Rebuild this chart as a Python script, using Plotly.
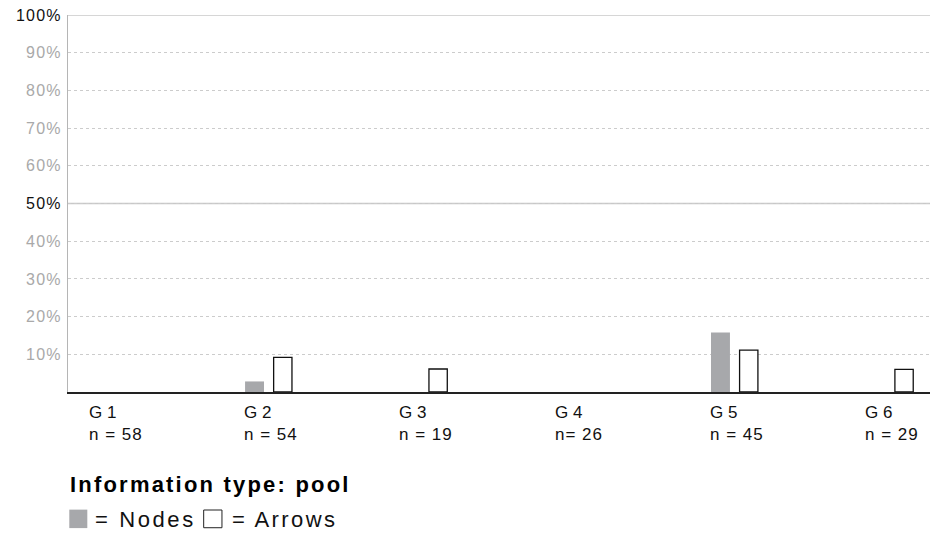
import plotly.graph_objects as go

groups = ['G 1', 'G 2', 'G 3', 'G 4', 'G 5', 'G 6']
n_labels = ['n = 58', 'n = 54', 'n = 19', 'n= 26', 'n = 45', 'n = 29']
nodes = [None, 2.8, None, None, 15.8, None]
arrows = [None, 9.2, 6.1, None, 11.1, 6.0]
y_ticks = [10, 20, 30, 40, 50, 60, 70, 80, 90, 100]

FONT = 'Liberation Sans, Arial, sans-serif'
GREY = '#a7a8ab'
xpos = list(range(len(groups)))


def spaced(txt, px):
    return "<span style='letter-spacing:%spx'>%s</span>" % (px, txt)


fig = go.Figure()

fig.add_trace(go.Bar(
    x=xpos, y=nodes, name='Nodes', width=0.122, offset=-0.152,
    marker={'color': GREY, 'line': {'width': 0}}
))
fig.add_trace(go.Bar(
    x=xpos, y=arrows, name='Arrows', width=0.118, offset=0.032,
    marker={'color': 'white', 'line': {'color': '#111', 'width': 1.3}}
))

# solid lines at 50% and 100%
for yv in [50, 100]:
    fig.add_shape(type='line', xref='paper', yref='y', x0=0, x1=1, y0=yv, y1=yv,
                  line={'color': '#c8c8c8', 'width': 1.3}, layer='below')

# group labels under the axis
for i, (g, n) in enumerate(zip(groups, n_labels)):
    fig.add_annotation(x=i - 0.152, y=0, xref='x', yref='paper', text=g,
                       showarrow=False, xanchor='left', yanchor='middle',
                       xshift=-3, yshift=-20,
                       font={'size': 17, 'color': '#111', 'family': FONT})
    fig.add_annotation(x=i - 0.152, y=0, xref='x', yref='paper', text=spaced(n, 1),
                       showarrow=False, xanchor='left', yanchor='middle',
                       xshift=-3, yshift=-42,
                       font={'size': 17, 'color': '#111', 'family': FONT})

tick_text = []
for t in y_ticks:
    col = '#111' if t in (50, 100) else '#a9a9a9'
    tick_text.append("<span style='color:%s;letter-spacing:1.2px'>%d%%</span>" % (col, t))

fig.add_annotation(x=0.0, y=-0.2458, xref='paper', yref='paper',
                   text=spaced('<b>Information type: pool</b>', 2.2), showarrow=False,
                   xanchor='left', yanchor='middle',
                   font={'size': 22, 'color': '#000', 'family': FONT})

# legend key
fig.add_shape(type='rect', xref='paper', yref='paper', x0=0.0015, x1=0.0224,
              y0=-0.361, y1=-0.312, fillcolor=GREY, line={'width': 0})
fig.add_shape(type='rect', xref='paper', yref='paper', x0=0.1574, x1=0.1786,
              y0=-0.360, y1=-0.313, fillcolor='white', line={'color': '#222', 'width': 1})
fig.add_annotation(x=0.029, y=-0.337, xref='paper', yref='paper', text=spaced('= Nodes', 2.6),
                   showarrow=False, xanchor='left', yanchor='middle',
                   font={'size': 22, 'color': '#111', 'family': FONT})
fig.add_annotation(x=0.1875, y=-0.337, xref='paper', yref='paper', text=spaced('= Arrows', 2.4),
                   showarrow=False, xanchor='left', yanchor='middle',
                   font={'size': 22, 'color': '#111', 'family': FONT})

fig.update_layout(
    width=930, height=534,
    margin={'l': 68, 'r': 0, 't': 15, 'b': 142},
    paper_bgcolor='white', plot_bgcolor='white',
    showlegend=False,
    xaxis={'range': [-0.292, 5.258], 'showticklabels': False, 'showgrid': False,
           'zeroline': False, 'showline': True, 'linecolor': '#222', 'linewidth': 1.5,
           'automargin': False},
    yaxis={'range': [0, 100], 'tickvals': y_ticks, 'ticktext': tick_text,
           'showgrid': True, 'gridcolor': '#cccccc', 'gridwidth': 1, 'griddash': '3px,3px',
           'zeroline': False, 'showline': True, 'linecolor': '#b5b5b5', 'linewidth': 1.2,
           'ticks': '', 'ticklabelstandoff': 2, 'automargin': False,
           'ticklabeloverflow': 'allow',
           'tickfont': {'size': 16, 'family': FONT}},
)

# drop the page's default body margin so the figure fills the window
fig.write_html('out.html', config={'displayModeBar': False},
               post_script="document.body.style.margin='0';document.body.style.overflow='hidden';")
